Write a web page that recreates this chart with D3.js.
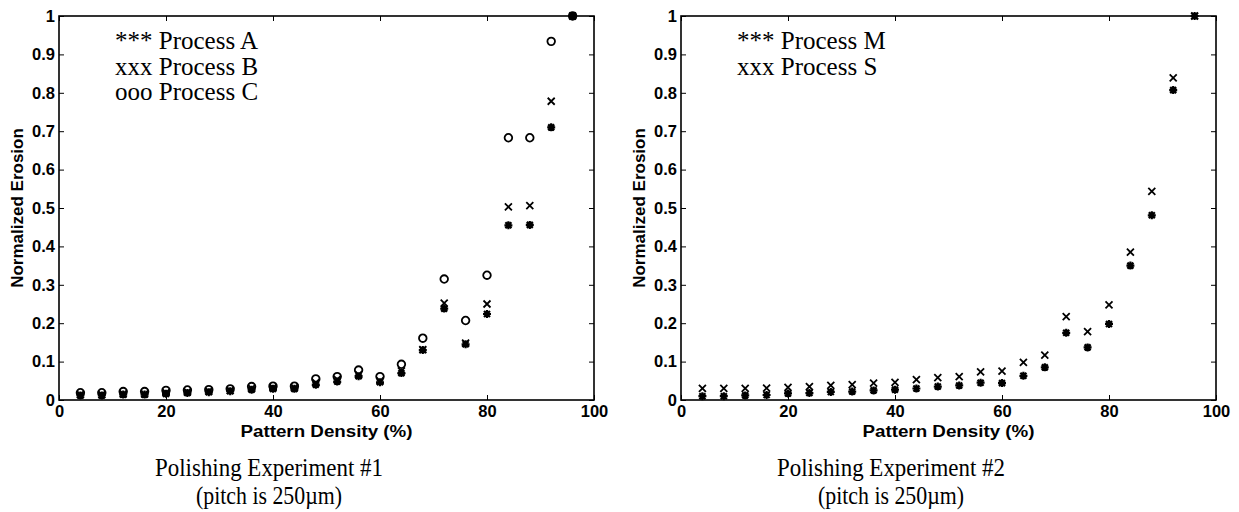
<!DOCTYPE html>
<html>
<head>
<meta charset="utf-8">
<script src="https://cdn.jsdelivr.net/npm/d3@7"></script>
<style>
  body { margin: 0; background: #fff; }
  svg { display: block; }
  .tick text { font-family: "Liberation Sans", Arial, sans-serif; font-weight: bold; font-size: 16.5px; fill: #000; }
  .tick line { stroke: #000; stroke-width: 1; }
  .lab { font-family: "Liberation Sans", Arial, sans-serif; font-weight: bold; font-size: 16px; }
  .leg, .cap { font-family: "Liberation Serif", "Times New Roman", serif; fill: #000; }
  .leg { font-size: 25px; }
  .cap { font-size: 26px; }
</style>
</head>
<body>
<script>
const W = 1239, H = 512;

// pattern density (%) of each measured structure
const density = [4, 8, 12, 16, 20, 24, 28, 32, 36, 40, 44, 48, 52, 56, 60, 64, 68, 72, 76, 80, 84, 88, 92, 96];

// experiment #1
const processA = [0.012, 0.012, 0.014, 0.014, 0.016, 0.018, 0.020, 0.023, 0.027, 0.029, 0.029, 0.040,
                  0.048, 0.062, 0.046, 0.070, 0.130, 0.238, 0.145, 0.224, 0.455, 0.456, 0.710, 1];
const processB = [0.014, 0.014, 0.016, 0.016, 0.019, 0.021, 0.023, 0.025, 0.030, 0.032, 0.032, 0.045,
                  0.054, 0.066, 0.050, 0.076, 0.131, 0.252, 0.148, 0.250, 0.503, 0.506, 0.778, 1];
const processC = [0.019, 0.019, 0.022, 0.022, 0.025, 0.026, 0.027, 0.029, 0.035, 0.036, 0.036, 0.055,
                  0.061, 0.078, 0.061, 0.093, 0.161, 0.315, 0.207, 0.325, 0.683, 0.683, 0.934, 1];

// experiment #2
const processM = [0.010, 0.010, 0.012, 0.013, 0.017, 0.018, 0.021, 0.022, 0.025, 0.027, 0.030, 0.035,
                  0.038, 0.045, 0.044, 0.063, 0.085, 0.175, 0.137, 0.198, 0.350, 0.481, 0.807, 1];
const processS = [0.030, 0.030, 0.030, 0.031, 0.033, 0.035, 0.038, 0.040, 0.044, 0.046, 0.053, 0.058,
                  0.061, 0.073, 0.075, 0.098, 0.117, 0.217, 0.178, 0.248, 0.385, 0.543, 0.839, 1];

const xTicks = [0, 20, 40, 60, 80, 100];
const yTicks = [0, 0.1, 0.2, 0.3, 0.4, 0.5, 0.6, 0.7, 0.8, 0.9, 1];
const yTickLabels = ['0', '0.1', '0.2', '0.3', '0.4', '0.5', '0.6', '0.7', '0.8', '0.9', '1'];

const xLabel = 'Pattern Density (%)';
const yLabel = 'Normalized Erosion';

const panels = [
  {
    left: 59,
    series: [
      {values: processC, marker: 'o'},
      {values: processB, marker: 'x'},
      {values: processA, marker: '*'}
    ],
    legend: ['*** Process A', 'xxx Process B', 'ooo Process C'],
    caption: ['Polishing Experiment #1', '(pitch is 250\u00b5m)']
  },
  {
    left: 681,
    series: [
      {values: processS, marker: 'x'},
      {values: processM, marker: '*'}
    ],
    legend: ['*** Process M', 'xxx Process S'],
    caption: ['Polishing Experiment #2', '(pitch is 250\u00b5m)']
  }
];

const plotW = 535, plotTop = 16, plotBottom = 400;

const markerPath = {
  'x': 'M-3.5,-3.5L3.5,3.5M-3.5,3.5L3.5,-3.5',
  '*': 'M-4,0H4M0,-4V4M-3,-3L3,3M-3,3L3,-3'
};

const svg = d3.select('body').append('svg')
  .attr('width', W)
  .attr('height', H)
  .attr('viewBox', [0, 0, W, H]);

svg.append('rect').attr('width', W).attr('height', H).attr('fill', '#fff');

panels.forEach(p => {
  const x = d3.scaleLinear().domain([0, 100]).range([p.left, p.left + plotW]);
  const y = d3.scaleLinear().domain([0, 1]).range([plotBottom, plotTop]);
  const g = svg.append('g');

  g.append('g')
    .attr('transform', `translate(0,${plotBottom})`)
    .call(d3.axisBottom(x).tickValues(xTicks).tickSizeInner(-5).tickSizeOuter(0).tickPadding(5).tickFormat(d3.format('d')))
    .call(a => a.select('.domain').remove());
  g.append('g')
    .attr('transform', `translate(0,${plotTop})`)
    .call(d3.axisTop(x).tickValues(xTicks).tickSizeInner(-5).tickSizeOuter(0).tickFormat(''))
    .call(a => a.select('.domain').remove());
  g.append('g')
    .attr('transform', `translate(${p.left},0)`)
    .call(d3.axisLeft(y).tickValues(yTicks).tickSizeInner(-5).tickSizeOuter(0).tickPadding(4)
      .tickFormat((d, i) => yTickLabels[i]))
    .call(a => a.select('.domain').remove());
  g.append('g')
    .attr('transform', `translate(${p.left + plotW},0)`)
    .call(d3.axisRight(y).tickValues(yTicks).tickSizeInner(-5).tickSizeOuter(0).tickFormat(''))
    .call(a => a.select('.domain').remove());

  g.append('rect')
    .attr('x', p.left).attr('y', plotTop)
    .attr('width', plotW).attr('height', plotBottom - plotTop)
    .attr('fill', 'none').attr('stroke', '#000').attr('stroke-width', 1.6);

  p.series.forEach(s => {
    const pts = g.append('g').selectAll('g')
      .data(s.values)
      .join('g')
        .attr('transform', (d, i) => `translate(${x(density[i])},${y(d)})`);
    if (s.marker === 'o') {
      pts.append('circle').attr('r', 3.8)
        .attr('fill', 'none').attr('stroke', '#000').attr('stroke-width', 1.8);
    } else {
      pts.append('path').attr('d', markerPath[s.marker])
        .attr('fill', 'none').attr('stroke', '#000').attr('stroke-width', s.marker === '*' ? 2.2 : 1.8);
    }
  });

  // legend is a plain multi-line text block, as in the original
  g.append('text')
    .attr('class', 'leg')
    .attr('y', 49)
    .selectAll('tspan')
    .data(p.legend)
    .join('tspan')
      .attr('x', p.left + 56)
      .attr('dy', (d, i) => i ? 25.7 : 0)
      .text(d => d);

  g.append('text')
    .attr('class', 'lab')
    .attr('x', p.left + plotW / 2 - 86)
    .attr('y', 437)
    .attr('textLength', 172)
    .attr('lengthAdjust', 'spacingAndGlyphs')
    .text(xLabel);

  g.append('text')
    .attr('class', 'lab')
    .style('font-size', '17px')
    .attr('transform', `translate(${p.left - 36},${(plotTop + plotBottom) / 2}) rotate(-90)`)
    .attr('text-anchor', 'middle')
    .text(yLabel);

  g.append('g').selectAll('text')
    .data(p.caption)
    .join('text')
      .attr('class', 'cap')
      .attr('x', (d, i) => p.left + 210 - (i ? 73 : 114))
      .attr('y', (d, i) => 476 + i * 28)
      .attr('textLength', (d, i) => i ? 146 : 228)
      .attr('lengthAdjust', 'spacingAndGlyphs')
      .text(d => d);
});
</script>
</body>
</html>
